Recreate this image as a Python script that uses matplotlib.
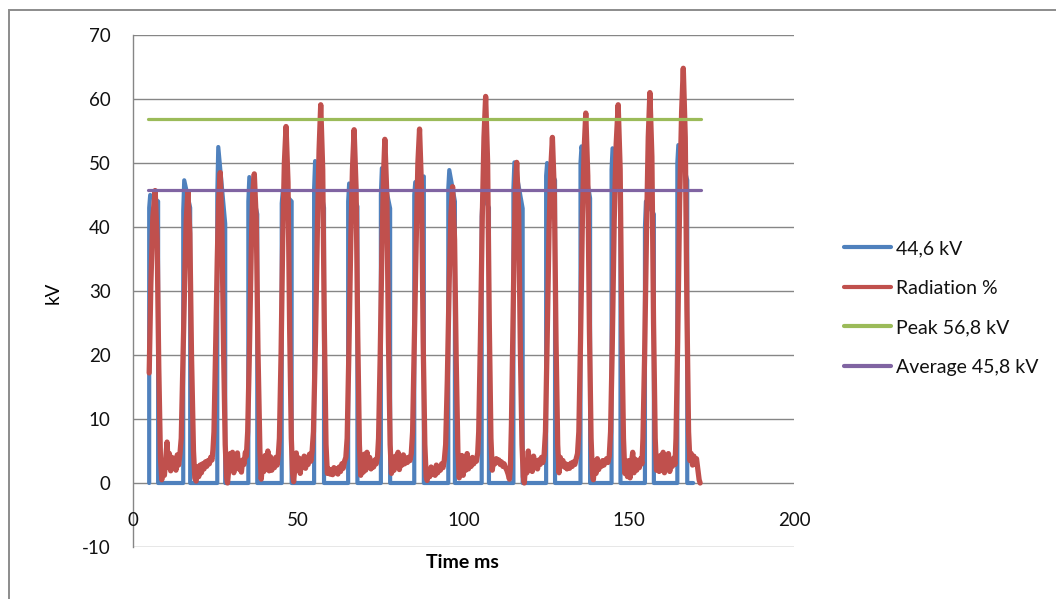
import matplotlib
matplotlib.use("Agg")
import matplotlib.pyplot as plt
from matplotlib.patches import Rectangle

plt.rcParams['font.family'] = ['Lato', 'DejaVu Sans']
plt.rcParams['axes.unicode_minus'] = False

# ---- data -------------------------------------------------------------
# tube voltage (kV) – rectangular exposure pulses
blue_ms = [4.9, 4.9, 5.2, 7.6, 7.6,
           15.2, 15.2, 15.5, 17.3, 17.3,
           25.5, 25.5, 25.8, 27.9, 27.9,
           34.9, 34.9, 35.2, 37.6, 37.6,
           45.0, 45.0, 45.3, 48.0, 48.0,
           54.8, 54.8, 55.1, 57.8, 57.8,
           65.1, 65.1, 65.4, 67.9, 67.9,
           75.0, 75.0, 75.3, 77.8, 77.8,
           85.1, 85.1, 85.4, 88.0, 88.0,
           95.4, 95.4, 95.7, 97.4, 97.4,
           105.5, 105.5, 105.8, 107.7, 107.7,
           115.1, 115.1, 115.4, 117.9, 117.9,
           125.0, 125.0, 125.3, 127.7, 127.7,
           135.4, 135.4, 135.7, 138.3, 138.3,
           144.8, 144.8, 145.1, 147.5, 147.5,
           154.9, 154.9, 155.2, 157.6, 157.6,
           164.7, 164.7, 165.0, 167.7, 167.7,
           169.5]
blue_kv = [0, 43.0, 45.0, 44.0, 0,
           0, 42.5, 47.3, 43.0, 0,
           0, 45.0, 52.5, 40.5, 0,
           0, 44.0, 47.8, 42.0, 0,
           0, 43.7, 45.5, 44.0, 0,
           0, 46.0, 50.3, 43.0, 0,
           0, 44.0, 46.8, 43.2, 0,
           0, 45.0, 49.2, 42.9, 0,
           0, 45.0, 47.0, 47.9, 0,
           0, 46.0, 48.9, 44.0, 0,
           0, 41.6, 45.0, 43.0, 0,
           0, 46.0, 50.1, 42.9, 0,
           0, 48.0, 50.0, 47.3, 0,
           0, 50.0, 52.6, 44.5, 0,
           0, 49.0, 52.3, 45.0, 0,
           0, 40.0, 44.0, 42.0, 0,
           0, 50.0, 52.8, 47.3, 0,
           0]

# radiation output (%) sampled along the same time base
red_ms = [4.9, 5.4, 6.0, 6.7, 7.3, 7.8, 8.3, 8.7,
          9.1, 9.5, 9.9, 10.3, 10.7, 11.0, 11.4, 11.8, 12.2, 12.6, 13.0, 13.4, 13.8, 14.2,
          14.6, 15.1, 15.7, 16.1, 16.6, 17.2, 17.7, 18.3, 18.7, 19.1,
          19.5, 19.9, 20.3, 20.7, 21.1, 21.5, 21.9, 22.3, 22.7, 23.1, 23.5, 23.9, 24.2,
          24.5, 25.0, 25.5, 25.9, 26.4, 26.9, 27.4, 27.9, 28.3, 28.6,
          29.0, 29.4, 29.7, 30.1, 30.5, 30.8, 31.2, 31.6, 32.0, 32.4, 32.8, 33.2, 33.6, 34.0, 34.3,
          34.7, 35.2, 35.8, 36.2, 36.7, 37.3, 37.8, 38.4, 38.8,
          39.2, 39.6, 40.0, 40.4, 40.8, 41.2, 41.6, 42.0, 42.4, 42.8, 43.2, 43.6, 44.0,
          44.3, 44.8, 45.3, 45.8, 46.3, 46.9, 47.4, 47.9, 48.3, 48.6,
          49.0, 49.4, 49.8, 50.2, 50.6, 51.0, 51.4, 51.8, 52.2, 52.6, 53.0, 53.4, 53.8, 54.2,
          54.6, 55.2, 55.8, 56.3, 56.8, 57.4, 57.9, 58.4, 58.8,
          59.2, 59.6, 60.0, 60.4, 60.8, 61.2, 61.6, 62.0, 62.4, 62.8, 63.2, 63.6, 64.0, 64.4,
          64.8, 65.3, 65.9, 66.4, 66.9, 67.5, 68.0, 68.5, 68.9,
          69.3, 69.7, 70.0, 70.4, 70.8, 71.2, 71.6, 72.0, 72.4, 72.8, 73.2, 73.6, 74.0,
          74.3, 74.8, 75.3, 75.8, 76.2, 76.8, 77.3, 77.8, 78.2,
          78.6, 79.0, 79.4, 79.8, 80.2, 80.6, 81.0, 81.4, 81.8, 82.2, 82.6, 83.0, 83.4, 83.8, 84.2,
          84.6, 85.1, 85.7, 86.2, 86.7, 87.3, 87.8, 88.3, 88.7, 89.0,
          89.4, 89.8, 90.2, 90.6, 91.0, 91.4, 91.8, 92.2, 92.6, 93.0, 93.4, 93.8, 94.2,
          94.6, 95.1, 95.7, 96.2, 96.7, 97.3, 97.8, 98.3, 98.7,
          99.1, 99.5, 99.9, 100.3, 100.7, 101.1, 101.5, 101.9, 102.3, 102.7, 103.1, 103.5, 103.9, 104.3,
          104.6, 105.1, 105.7, 106.2, 106.7, 107.3, 107.8, 108.3, 108.7,
          109.1, 109.5, 109.9, 110.3, 110.7, 111.1, 111.5, 111.9, 112.3, 112.7, 113.1, 113.5, 113.9, 114.2,
          114.5, 114.9, 115.3, 115.7, 116.1, 116.7, 117.2, 117.7, 118.1, 118.4,
          118.8, 119.2, 119.6, 120.0, 120.4, 120.8, 121.2, 121.6, 122.0, 122.4, 122.8, 123.2, 123.6, 124.0, 124.4,
          124.8, 125.3, 125.9, 126.4, 126.9, 127.5, 128.0, 128.5, 128.9,
          129.3, 129.7, 130.1, 130.5, 130.9, 131.3, 131.7, 132.1, 132.5, 132.9, 133.3, 133.7, 134.1, 134.5,
          134.9, 135.4, 136.0, 136.5, 137.0, 137.6, 138.1, 138.6, 139.0, 139.3,
          139.7, 140.1, 140.5, 140.9, 141.3, 141.7, 142.1, 142.5, 142.9, 143.3, 143.7, 144.1,
          144.5, 145.0, 145.6, 146.2, 146.8, 147.4, 147.9, 148.4, 148.8,
          149.2, 149.6, 150.0, 150.4, 150.8, 151.2, 151.6, 152.0, 152.4, 152.8, 153.2, 153.6, 154.0,
          154.3, 154.8, 155.4, 155.9, 156.4, 157.0, 157.5, 158.0, 158.4,
          158.8, 159.2, 159.6, 160.0, 160.4, 160.8, 161.2, 161.6, 162.0, 162.4, 162.8, 163.2, 163.6, 164.0,
          164.3, 164.8, 165.4, 166.0, 166.5, 167.1, 167.6, 168.1, 168.5,
          168.9, 169.3, 169.7, 170.1, 170.5, 170.9, 171.3, 171.6]
red_pct = [17.2, 31, 41.5, 45.7, 38, 18, 4, 0.5,
           2.8, 1.2, 3.9, 6.4, 2.4, 4.6, 1.9, 4.0, 2.3, 3.6, 2.0, 4.4, 2.8, 4.5,
           7, 19, 33, 41, 45.5, 39, 20, 5, 0.8, 0.3,
           2.5, 1.0, 2.8, 1.6, 3.0, 2.2, 3.3, 2.6, 3.5, 3.0, 4.0, 3.6, 5.2,
           8, 21, 35, 44, 48.5, 40, 21, 6, 1, 0,
           2.4, 4.6, 2.0, 4.8, 1.6, 3.9, 2.5, 4.7, 2.2, 3.0, 1.7, 3.6, 2.9, 4.8, 4.2,
           8, 20, 37, 45, 48.3, 41, 21, 5, 0.6,
           3.1, 1.8, 4.3, 2.2, 5.0, 1.9, 4.1, 2.0, 3.4, 2.4, 4.0, 2.8, 4.6,
           7, 20, 38, 50, 55.7, 47, 24, 7, 1.5, 0.2,
           2.6, 4.7, 2.1, 3.9, 1.5, 3.4, 2.6, 4.2, 2.3, 3.8, 2.9, 4.5, 3.4, 5.0,
           8, 22, 40, 52, 59.1, 49, 24, 6, 1.5,
           2.2, 1.4, 2.0, 1.3, 2.4, 1.6, 2.2, 1.4, 2.5, 1.8, 3.0, 2.3, 3.4, 4.0,
           7, 20, 38, 49, 55.2, 46, 23, 6, 1.2,
           3.6, 1.7, 4.5, 2.0, 4.8, 2.6, 4.0, 2.2, 3.2, 2.5, 3.6, 3.0, 4.2,
           7, 20, 36, 48, 53.7, 45, 22, 6, 1.5,
           3.5, 2.0, 4.2, 2.6, 4.8, 2.1, 3.8, 2.8, 4.4, 3.0, 3.9, 3.2, 4.0, 3.5, 4.6,
           8, 22, 38, 50, 55.3, 46, 22, 6, 1.0, 0.4,
           2.0, 1.0, 2.5, 1.4, 2.2, 1.2, 2.8, 1.6, 2.4, 2.0, 3.0, 2.4, 3.6,
           6, 16, 32, 42, 46.3, 38, 19, 5, 0.8,
           2.5, 4.3, 1.2, 3.4, 2.0, 4.6, 2.2, 3.5, 2.6, 4.0, 3.0, 3.8, 3.4, 4.7,
           8, 22, 42, 54, 60.4, 50, 25, 7, 2.0,
           3.6, 3.0, 3.8, 3.3, 3.6, 2.9, 3.3, 2.6, 3.0, 2.4, 2.0, 1.4, 0.6, 2.5,
           9, 22, 36, 46, 50.1, 42, 21, 6, 1, 0,
           3.2, 1.6, 5.0, 2.0, 3.8, 1.8, 4.2, 2.4, 3.4, 2.2, 3.6, 2.9, 4.0, 3.2, 4.4,
           8, 22, 40, 49, 54.0, 45, 22, 6, 1.6,
           4.0, 2.8, 3.5, 2.5, 3.0, 2.2, 2.8, 2.3, 3.1, 2.6, 3.3, 2.9, 3.8, 4.6,
           8, 22, 42, 52, 57.8, 48, 24, 7, 1.5, 0.5,
           3.4, 1.5, 3.8, 2.1, 3.0, 2.6, 3.5, 2.8, 3.3, 3.8, 3.2, 4.2,
           8, 21, 41, 53, 59.1, 49, 24, 7, 1.5,
           3.4, 1.0, 3.5, 0.8, 3.0, 4.8, 1.6, 3.7, 2.0, 3.4, 2.4, 3.8, 3.0,
           7, 20, 40, 54, 61.0, 51, 25, 7, 2.0,
           3.6, 1.8, 4.3, 2.0, 4.8, 1.6, 3.9, 2.3, 4.6, 1.8, 3.3, 2.6, 3.9, 2.9,
           7, 22, 44, 58, 64.8, 54, 27, 8, 3.5,
           4.6, 2.8, 4.2, 3.0, 3.8, 2.2, 0.5, 0]

# reference levels
peak_kv = 56.8
average_kv = 45.8
level_ms = [4.4, 172.0]

labels = ['44,6 kV', 'Radiation %', 'Peak 56,8 kV', 'Average 45,8 kV']
colors = ['#4F81BD', '#C0504D', '#9BBB59', '#8064A2']

x_ticks = [0, 50, 100, 150, 200]
y_ticks = [-10, 0, 10, 20, 30, 40, 50, 60, 70]

# ---- figure -----------------------------------------------------------
W, H = 1056, 599
fig = plt.figure(figsize=(W / 100, H / 100), dpi=100)

# chart frame
fig.patches.append(Rectangle((9 / W, -0.05), 1.2, 1 - 10 / H + 0.05,
                             transform=fig.transFigure, fill=False,
                             edgecolor='#8c8c8c', linewidth=1.4))

ax_l, ax_r, ax_t, ax_b = 133, 794, 35, 547
ax = fig.add_axes([ax_l / W, 1 - ax_b / H, (ax_r - ax_l) / W, (ax_b - ax_t) / H])
ax.set_xlim(0, 200)
ax.set_ylim(-10, 70)

grid_c = '#868686'
for s in ['top', 'right', 'bottom']:
    ax.spines[s].set_visible(False)
ax.spines['left'].set_color(grid_c)
ax.spines['left'].set_linewidth(1.0)
ax.set_yticks(y_ticks)
ax.yaxis.grid(True, color=grid_c, linewidth=1.0)
ax.set_axisbelow(True)
ax.tick_params(axis='y', length=0, pad=16, labelsize=13.5, labelcolor='#111111')

# x tick labels sit just under the zero line
ax.set_xticks(x_ticks)
ax.tick_params(axis='x', length=0, labelbottom=False)
for xv in x_ticks:
    ax.annotate(str(xv), xy=(xv, 0), xytext=(0, -37), textcoords='offset pixels',
                ha='center', va='center', fontsize=13.5, color='#111111')

lw = dict(solid_joinstyle='round', solid_capstyle='round')
ax.plot(blue_ms, blue_kv, color=colors[0], linewidth=3.0, label=labels[0], **lw)
ax.plot(red_ms, red_pct, color=colors[1], linewidth=3.8, label=labels[1], **lw)
ax.plot(level_ms, [peak_kv, peak_kv], color=colors[2], linewidth=2.3, label=labels[2], **lw)
ax.plot(level_ms, [average_kv, average_kv], color=colors[3], linewidth=2.3, label=labels[3], **lw)

ax.set_ylabel('kV', fontsize=13.5, va='center', ha='center')
ax.yaxis.set_label_coords((53 - ax_l) / (ax_r - ax_l), (ax_b - 293) / (ax_b - ax_t))
ax.set_xlabel('Time ms', fontsize=14, fontweight='bold', va='center', ha='center')
ax.xaxis.set_label_coords((462 - ax_l) / (ax_r - ax_l), (ax_b - 563) / (ax_b - ax_t))

leg = fig.legend(loc='center left', bbox_to_anchor=(844 / W, 1 - 308 / H),
                 frameon=False, fontsize=14, handlelength=2.4, handletextpad=0.3,
                 labelspacing=1.16, borderpad=0, borderaxespad=0)
for line in leg.get_lines():
    line.set_linewidth(3.0)
for t in leg.get_texts():
    t.set_color('#111111')

fig.savefig('out.png', dpi=100)
